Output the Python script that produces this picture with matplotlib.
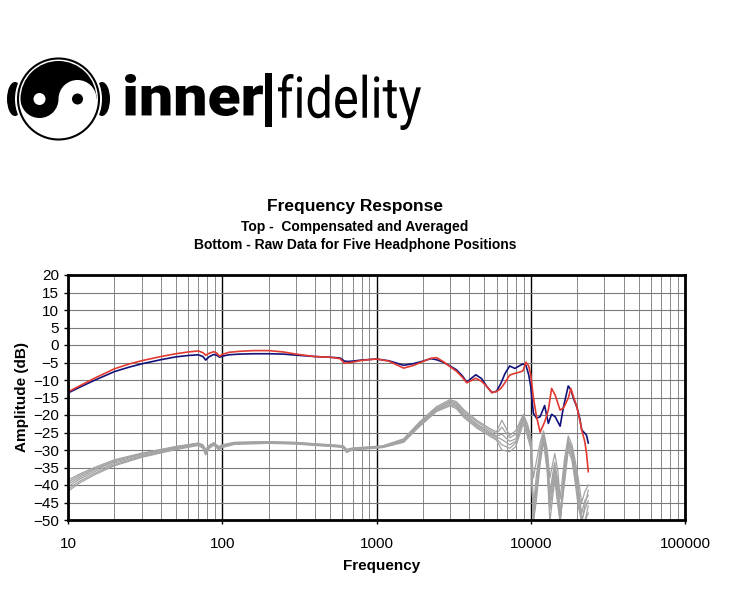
import numpy as np
import matplotlib
matplotlib.use('Agg')
import matplotlib.pyplot as plt
from matplotlib.patches import Circle, Wedge, Ellipse, Rectangle, PathPatch
from matplotlib.textpath import TextPath
from matplotlib.font_manager import FontProperties
from matplotlib.transforms import Affine2D
from matplotlib.ticker import LogLocator, NullFormatter

plt.rcParams['font.family'] = ['Liberation Sans', 'DejaVu Sans']

# Compensated and averaged response (dB), left = blue, right = red
freq = [10, 12, 15, 20, 25, 30, 40, 50, 60, 70, 75, 78, 82, 88, 92, 96, 100, 110, 130, 160,
        200, 250, 300, 400, 500, 580, 620, 650, 700, 800, 1000, 1200, 1500, 1750, 2000, 2250,
        2450, 2700, 3000, 3300, 3600, 3850, 4100, 4400, 4800, 5200, 5600, 6000, 6400, 6800,
        7300, 7900, 8400, 8900, 9300, 9700, 10000, 10400, 10900, 11500, 12300, 13000, 13650,
        14400, 15500, 16300, 17500, 18200, 19000, 19900, 20800, 21400, 22400, 23000, 23600]
avg_left = [-13.7, -12.0, -10.0, -7.6, -6.3, -5.4, -4.2, -3.4, -3.0, -2.8, -3.3, -4.3, -3.4, -2.7,
            -2.9, -3.5, -3.2, -2.8, -2.6, -2.5, -2.5, -2.6, -2.9, -3.3, -3.5, -3.7, -4.6, -4.7,
            -4.6, -4.3, -4.0, -4.5, -5.8, -5.3, -4.6, -3.9, -4.2, -4.9, -6.0, -7.1, -8.8, -10.6,
            -9.6, -8.5, -9.6, -11.9, -13.6, -13.2, -11.0, -8.2, -6.0, -6.7, -6.0, -5.4, -5.8,
            -8.5, -11.9, -19.5, -20.9, -20.5, -17.3, -22.4, -19.8, -20.5, -23.2, -17.7, -11.7,
            -12.8, -15.5, -17.7, -21.0, -24.3, -25.2, -25.8, -28.0]
avg_right = [-13.4, -11.6, -9.4, -6.8, -5.4, -4.5, -3.3, -2.5, -2.0, -1.7, -2.2, -2.9, -2.4, -1.9,
             -2.3, -3.2, -2.7, -2.1, -1.8, -1.6, -1.6, -2.0, -2.6, -3.3, -3.5, -3.9, -5.2, -5.1,
             -4.9, -4.4, -4.0, -4.6, -6.6, -5.8, -4.7, -3.8, -3.6, -4.7, -6.2, -7.5, -9.2, -10.8,
             -10.2, -9.5, -10.4, -11.9, -13.6, -13.3, -12.4, -10.8, -8.6, -8.1, -7.8, -7.4, -4.9,
             -6.0, -8.5, -15.0, -20.5, -24.9, -22.0, -18.6, -12.4, -14.3, -18.6, -18.0, -15.2,
             -12.4, -15.0, -17.7, -21.5, -24.3, -27.6, -31.0, -36.2]

# Raw data for the headphone positions (dB)
raw_freq = [10, 12, 15, 20, 30, 50, 70, 75, 78, 82, 88, 95, 100, 120, 200, 300, 400, 550, 610,
            640, 700, 900, 1100, 1500, 1900, 2450, 3000, 3300, 3700, 4500, 5500, 6000, 6500,
            7300, 8000, 8950, 9500, 10000, 10400, 10900, 11500, 12100, 12800, 13300, 14300,
            15000, 15500, 16500, 17500, 18500, 19300, 20300, 21400, 22400, 23600]
raw_1 = [-38.6, -36.8, -34.9, -32.8, -30.9, -29.0, -28.0, -28.5, -29.8, -28.7, -27.9, -29.0, -28.5,
         -27.8, -27.6, -27.8, -28.2, -28.6, -28.8, -29.8, -29.4, -29.1, -28.8, -26.8, -22.0, -17.6,
         -15.6, -16.2, -18.6, -21.6, -24.0, -24.8, -21.5, -25.8, -24.5, -19.8, -22.5, -26.0, -38.0,
         -33.0, -28.0, -24.5, -30.0, -38.0, -31.0, -36.0, -44.0, -33.0, -26.0, -28.5, -32.5, -38.0,
         -45.0, -42.0, -40.0]
raw_2 = [-39.2, -37.2, -35.3, -33.1, -31.1, -29.1, -28.1, -28.8, -30.8, -29.0, -28.0, -29.3, -28.7,
         -27.9, -27.7, -27.9, -28.3, -28.7, -28.9, -30.4, -29.6, -29.2, -28.9, -27.0, -22.3, -18.0,
         -16.0, -16.6, -19.0, -22.0, -24.5, -25.3, -23.5, -26.5, -25.5, -20.3, -23.0, -27.0, -50.5,
         -40.0, -31.0, -25.0, -31.5, -42.0, -33.5, -39.0, -50.5, -35.0, -27.0, -29.5, -34.0, -40.0,
         -50.5, -46.0, -41.5]
raw_3 = [-39.8, -37.7, -35.6, -33.4, -31.3, -29.3, -28.3, -29.0, -31.0, -29.2, -28.2, -29.5, -28.9,
         -28.0, -27.8, -28.0, -28.4, -28.8, -29.0, -30.1, -29.7, -29.3, -29.0, -27.2, -22.5, -18.2,
         -16.3, -17.0, -19.5, -22.6, -25.0, -26.0, -25.5, -27.5, -26.8, -21.0, -24.0, -27.5, -46.0,
         -37.0, -30.0, -25.5, -32.5, -43.0, -34.5, -40.0, -48.0, -36.5, -27.5, -30.5, -35.0, -41.0,
         -48.0, -44.5, -43.0]
raw_4 = [-40.5, -38.2, -36.1, -33.8, -31.6, -29.5, -28.4, -29.2, -31.2, -29.4, -28.3, -29.7, -29.0,
         -28.1, -27.9, -28.1, -28.5, -28.9, -29.1, -30.6, -29.8, -29.4, -29.1, -27.4, -22.8, -18.5,
         -16.7, -17.4, -20.0, -23.0, -25.4, -26.3, -27.0, -28.5, -27.5, -20.8, -24.5, -28.0, -50.5,
         -42.0, -32.0, -26.0, -33.5, -45.0, -35.5, -42.0, -50.5, -37.5, -28.0, -31.0, -36.0, -42.5,
         -50.5, -47.0, -44.5]
raw_5 = [-41.2, -38.8, -36.6, -34.2, -31.9, -29.7, -28.5, -29.3, -30.2, -29.3, -28.4, -29.8, -29.1,
         -28.2, -28.0, -28.2, -28.6, -29.0, -29.2, -30.3, -29.9, -29.5, -29.2, -27.6, -23.0, -18.8,
         -17.0, -17.8, -20.4, -23.4, -25.8, -26.8, -28.5, -29.5, -28.0, -21.5, -25.0, -28.5, -48.0,
         -40.0, -33.0, -27.0, -35.0, -47.0, -37.0, -44.0, -50.5, -38.5, -29.0, -32.0, -37.0, -44.0,
         -50.5, -50.5, -46.0]
raw_6 = [-41.8, -39.3, -37.0, -34.5, -32.1, -29.9, -28.7, -29.5, -31.4, -29.6, -28.6, -30.0, -29.3,
         -28.4, -28.1, -28.3, -28.7, -29.1, -29.3, -30.7, -30.0, -29.6, -29.3, -27.8, -23.3, -19.0,
         -17.4, -18.2, -20.8, -23.8, -26.2, -27.2, -30.0, -30.5, -29.0, -22.5, -26.0, -29.5, -50.5,
         -44.0, -34.0, -27.5, -36.5, -50.5, -38.5, -46.0, -50.5, -40.0, -30.0, -33.0, -38.5, -46.0,
         -50.5, -50.5, -48.0]
raw_series = [raw_1, raw_2, raw_3, raw_4, raw_5, raw_6]

x_ticks = [10, 100, 1000, 10000, 100000]
x_labels = ['10', '100', '1000', '10000', '100000']

fig = plt.figure(figsize=(7.5, 6.16), dpi=100)

# --- logo, drawn in pixel coordinates on a background layer ---
bg = fig.add_axes([0, 0, 1, 1])
bg.set_xlim(0, 750)
bg.set_ylim(616, 0)
bg.axis('off')

cx, cy, r = 58.5, 99, 38
bg.add_patch(Ellipse((15, cy), 16, 34, color='black', lw=0))
bg.add_patch(Ellipse((102, cy), 16, 34, color='black', lw=0))
bg.add_patch(Circle((cx, cy), 43.5, color='white', lw=0))
bg.add_patch(Circle((cx, cy), 40.5, fill=False, ec='black', lw=1.5))
bg.add_patch(Circle((cx, cy), r, color='white', lw=0))
bg.add_patch(Wedge((cx, cy), r, 180, 360, color='black', lw=0))
bg.add_patch(Wedge((cx - r / 2, cy), r / 2, 0, 180, color='black', lw=0))
bg.add_patch(Wedge((cx + r / 2, cy), r / 2, 180, 360, color='white', lw=0))
bg.add_patch(Circle((cx - r / 2, cy), 6, color='white', lw=0))
bg.add_patch(Circle((cx + r / 2, cy), 5.5, color='black', lw=0))


def fit_text(s, fp, x0, x1, ytop, ybot):
    tp = TextPath((0, 0), s, size=10, prop=fp)
    ext = tp.get_extents()
    tr = (Affine2D().translate(-ext.x0, -ext.y1)
          .scale((x1 - x0) / ext.width, -(ybot - ytop) / ext.height)
          .translate(x0, ytop))
    bg.add_patch(PathPatch(tr.transform_path(tp), color='black', lw=0))


fit_text('inner', FontProperties(family='Roboto', weight='black'), 125, 263, 74, 116)
bg.add_patch(Rectangle((265, 73), 6.5, 54, color='black', lw=0))
fit_text('fidelity', FontProperties(family='Roboto', weight='normal'), 278, 421, 74, 130)

# --- titles ---
fig.text(355 / 750, 1 - 207 / 616, 'Frequency Response', ha='center', va='center',
         fontsize=12.5, fontweight='bold')
fig.text(355 / 750, 1 - 227 / 616, 'Top -  Compensated and Averaged', ha='center', va='center',
         fontsize=10, fontweight='bold')
fig.text(355 / 750, 1 - 245 / 616, 'Bottom - Raw Data for Five Headphone Positions',
         ha='center', va='center', fontsize=10, fontweight='bold')

# --- chart ---
ax = fig.add_axes([68 / 750, 1 - 520 / 616, 617 / 750, 245 / 616])
for vals in raw_series:
    ax.plot(raw_freq, vals, color='#a3a3a3', lw=0.9)
ax.plot(freq, avg_left, color='#12127a', lw=1.2)
ax.plot(freq, avg_right, color='#e23a30', lw=1.2)

ax.set_xscale('log')
ax.set_xlim(10, 100000)
ax.set_ylim(-50, 20)
ax.set_yticks(np.arange(-50, 21, 5))
ax.set_xticks(x_ticks)
ax.set_xticklabels(x_labels)
ax.xaxis.set_minor_locator(LogLocator(base=10, subs=np.arange(2, 10), numticks=20))
ax.xaxis.set_minor_formatter(NullFormatter())
ax.tick_params(axis='x', which='minor', length=0)
ax.tick_params(which='major', direction='out', length=3, width=1, labelsize=11)
ax.tick_params(axis='x', which='major', pad=9)
ax.grid(which='major', axis='x', color='black', lw=1.0)
ax.grid(which='minor', axis='x', color='#8a8a8a', lw=0.7)
ax.grid(which='major', axis='y', color='#7a7a7a', lw=0.8)
for s in ax.spines.values():
    s.set_linewidth(2.0)

fig.text(22 / 750, 1 - 397 / 616, 'Amplitude (dB)', rotation=90, ha='center', va='center',
         fontsize=11, fontweight='bold')
fig.text(382 / 750, 1 - 566 / 616, 'Frequency', ha='center', va='center',
         fontsize=11, fontweight='bold')

fig.savefig('out.png', dpi=100)
